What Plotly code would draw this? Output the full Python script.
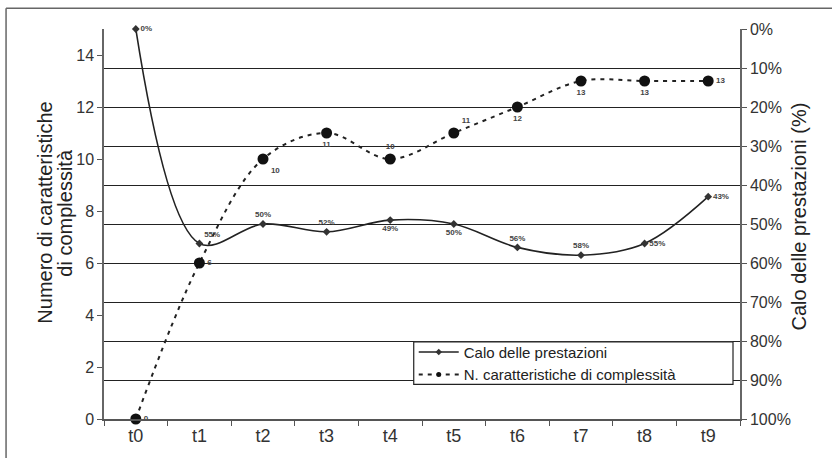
import plotly.graph_objects as go

categories = ["t0", "t1", "t2", "t3", "t4", "t5", "t6", "t7", "t8", "t9"]
calo_prestazioni = [0.00, 0.55, 0.50, 0.52, 0.49, 0.50, 0.56, 0.58, 0.55, 0.43]
n_caratteristiche = [0, 6, 10, 11, 10, 11, 12, 13, 13, 13]
calo_label_pos = ["middle right", "top right", "top center", "top center", "bottom center",
                  "bottom center", "top center", "top center", "middle right", "middle right"]
car_label_pos = ["middle right", "middle right", "bottom right", "bottom center", "top center",
                 "top right", "bottom center", "bottom center", "bottom center", "middle right"]
name_calo = "Calo delle prestazioni"
name_car = "N. caratteristiche di complessità"

FONT = "Liberation Sans, Arial, sans-serif"
LABEL_FONT = dict(size=8, color="#444", family=FONT, weight="bold")

fig = go.Figure()

fig.add_trace(go.Scatter(
    x=categories, y=calo_prestazioni, yaxis="y2",
    name=name_calo, showlegend=False, cliponaxis=False,
    mode="lines+markers+text",
    line=dict(color="#222", width=1.6, shape="spline", smoothing=1),
    marker=dict(symbol="diamond", size=6, color="#333"),
    text=[f"{round(v*100)}%" for v in calo_prestazioni],
    textposition=calo_label_pos, textfont=LABEL_FONT,
))

fig.add_trace(go.Scatter(
    x=categories, y=n_caratteristiche, yaxis="y",
    name=name_car, showlegend=False, cliponaxis=False,
    mode="lines+markers+text",
    line=dict(color="#222", width=2, shape="spline", smoothing=1, dash="4px,5px"),
    marker=dict(symbol="circle", size=11, color="#111"),
    text=[str(v) for v in n_caratteristiche],
    textposition=car_label_pos, textfont=LABEL_FONT,
))

# legend-only entries (small symbols as in the reference legend)
fig.add_trace(go.Scatter(
    x=[None], y=[None], name=name_calo, mode="lines+markers",
    line=dict(color="#222", width=1.6), marker=dict(symbol="diamond", size=5, color="#333"),
))
fig.add_trace(go.Scatter(
    x=[None], y=[None], name=name_car, mode="lines+markers",
    line=dict(color="#222", width=2, dash="4px,5px"), marker=dict(symbol="circle", size=5, color="#111"),
))

fig.update_layout(
    width=832, height=458,
    margin=dict(l=104, r=92, t=29, b=35),
    paper_bgcolor="white", plot_bgcolor="white",
    font=dict(family=FONT, color="#333", size=14),
    showlegend=True,
    legend=dict(
        x=0.487, y=0.143, xanchor="left", yanchor="middle",
        bgcolor="rgba(0,0,0,0)", borderwidth=0,
        font=dict(size=15, color="#222"), itemwidth=40,
        tracegroupgap=0,
    ),
    xaxis=dict(
        type="category", tickson="boundaries", ticks="outside", ticklen=5,
        tickcolor="#555", showline=True, linecolor="#555", linewidth=1.5,
        showgrid=False, tickfont=dict(size=18, color="#333"),
        range=[-0.5, 9.5],
    ),
    yaxis=dict(
        range=[0, 15], dtick=2, tick0=0, showgrid=False, zeroline=False,
        showline=True, linecolor="#666", linewidth=1.5,
        ticks="outside", ticklen=5, tickcolor="#555",
        tickfont=dict(size=16, color="#333"),
    ),
    yaxis2=dict(
        overlaying="y", side="right", range=[1, 0], dtick=0.1, tick0=0,
        tickformat=".0%", showgrid=True, gridcolor="#222", gridwidth=1.3,
        zeroline=False, showline=True, linecolor="#666", linewidth=1.5,
        ticks="outside", ticklen=5, tickcolor="#555",
        tickfont=dict(size=16, color="#333"),
    ),
    annotations=[
        dict(text="Numero di caratteristiche", textangle=-90, xref="paper", yref="paper",
             x=-0.0928, y=0.529, xanchor="center", yanchor="middle", showarrow=False,
             font=dict(size=20, color="#222")),
        dict(text="di complessità", textangle=-90, xref="paper", yref="paper",
             x=-0.0613, y=0.529, xanchor="center", yanchor="middle", showarrow=False,
             font=dict(size=20, color="#222")),
        dict(text="Calo delle prestazioni (%)", textangle=-90, xref="paper", yref="paper",
             x=1.092, y=0.518, xanchor="center", yanchor="middle", showarrow=False,
             font=dict(size=20, color="#222")),
    ],
    shapes=[
        dict(type="line", xref="paper", yref="paper", x0=-0.154, x1=-0.154,
             y0=-0.2, y1=1.053, line=dict(color="#666", width=1.5)),
        dict(type="line", xref="paper", yref="paper", x0=-0.154, x1=1.5,
             y0=1.053, y1=1.053, line=dict(color="#666", width=1.5)),
        dict(type="rect", xref="paper", yref="paper", x0=0.487, x1=0.989,
             y0=0.089, y1=0.198, layer="above", fillcolor="white",
             line=dict(color="#222", width=1.2)),
    ],
)

fig.write_html("out.html", config={"displayModeBar": False},
               post_script="document.body.style.margin='0';")
